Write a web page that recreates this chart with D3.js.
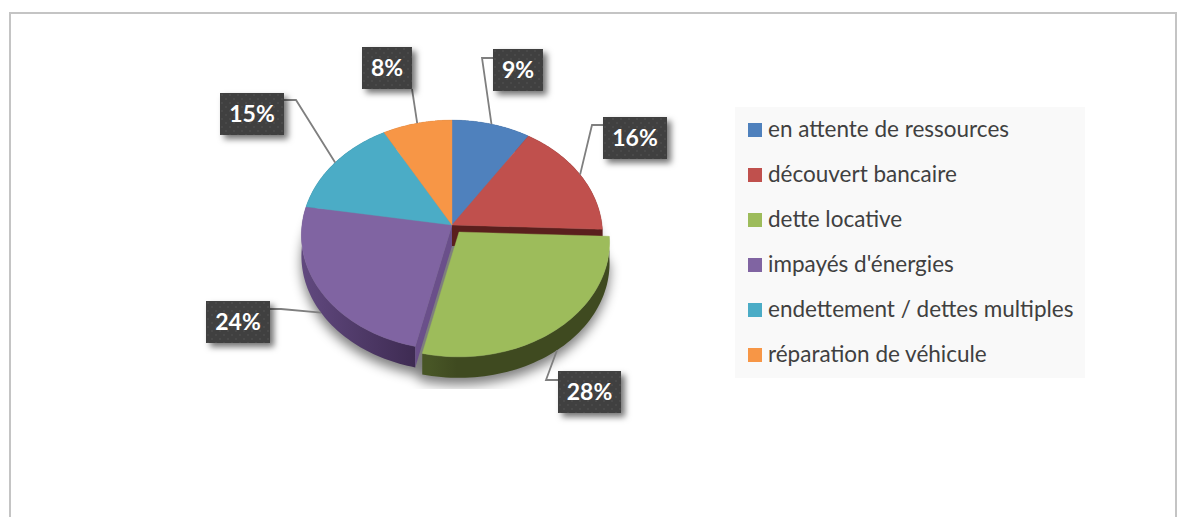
<!DOCTYPE html>
<html>
<head>
<meta charset="utf-8">
<script src="https://cdn.jsdelivr.net/npm/d3@7"></script>
<style>
	html, body { margin: 0; padding: 0; background: #fff; overflow: hidden; }
	svg { display: block; }
	text { font-family: Lato, "Open Sans", sans-serif; }
</style>
</head>
<body>
<div id="chart"></div>
<script>
// Chart values
const categories = ['en attente de ressources', 'découvert bancaire', 'dette locative', "impayés d'énergies", 'endettement / dettes multiples', 'réparation de véhicule'];
const values = [9.2, 16.4, 28, 24, 14.3, 8.1];
const percentLabels = ['9%', '16%', '28%', '24%', '15%', '8%'];

// Styles and layout, kept apart from the values
const faceColors = ['#4f81bd', '#c0504d', '#9dbc5b', '#8064a2', '#4bacc6', '#f79646'];
const boxCorners = [[493, 49], [603, 117], [558, 371], [206, 301], [220, 93], [362, 47]];
const boxWidths = [50, 64, 63, 64, 64, 50];
const boxHeight = 42;
const elbows = [[482, 58], [592, 125], [546, 380], [281, 309], [296, 100], null];
const boxAnchors = [[493, 58], [603, 125], [558, 380], [270, 309], [284, 100], [412, 89]];

const w = 1181, h = 517;
const cx = 452, cy = 225;
const radiusX = 150, radiusY = 114, tilt = 0.087;
const depth = 21;
const explodedIndex = 2;
const explode = [7, 7];

const svg = d3.select('#chart').append('svg').attr('width', w).attr('height', h);
const defs = svg.append('defs');

defs.append('filter').attr('id', 'pieShadow')
	.attr('x', '-20%').attr('y', '-20%').attr('width', '140%').attr('height', '140%')
	.append('feGaussianBlur').attr('stdDeviation', 6);

const boxShadow = defs.append('filter').attr('id', 'boxShadow')
	.attr('x', '-30%').attr('y', '-30%').attr('width', '170%').attr('height', '170%');
boxShadow.append('feDropShadow').attr('dx', 4).attr('dy', 4).attr('stdDeviation', 3)
	.attr('flood-color', '#000').attr('flood-opacity', 0.55);

const dots = defs.append('pattern').attr('id', 'dots').attr('patternUnits', 'userSpaceOnUse')
	.attr('width', 8).attr('height', 8);
dots.append('rect').attr('width', 8).attr('height', 8).attr('fill', '#3f3f3f');
dots.append('circle').attr('cx', 2).attr('cy', 2).attr('r', 1).attr('fill', '#4b4b4b');
dots.append('circle').attr('cx', 6).attr('cy', 6).attr('r', 1).attr('fill', '#4b4b4b');

const purpleSide = defs.append('linearGradient').attr('id', 'purpleSide')
	.attr('gradientUnits', 'userSpaceOnUse').attr('x1', 301).attr('x2', 416).attr('y1', 0).attr('y2', 0);
purpleSide.append('stop').attr('offset', 0).attr('stop-color', '#61497f');
purpleSide.append('stop').attr('offset', 1).attr('stop-color', '#3e2b52');

const greenSide = defs.append('linearGradient').attr('id', 'greenSide')
	.attr('gradientUnits', 'userSpaceOnUse').attr('x1', 422).attr('x2', 450).attr('y1', 0).attr('y2', 0);
greenSide.append('stop').attr('offset', 0).attr('stop-color', '#485626');
greenSide.append('stop').attr('offset', 1).attr('stop-color', '#3f4a20');

// Tilted disc with a little perspective: the near edge comes out bigger
const project = (angle) => {
	const u = Math.sin(angle), v = Math.cos(angle);
	const persp = 1 + tilt * v;
	return [cx + radiusX * u / persp, cy - radiusY * v / persp];
};
const line = d3.line();
const down = (p) => [p[0], p[1] + depth];

const rim = (d) => d3.range(0, 61).map((i) => project(d.startAngle + (d.endAngle - d.startAngle) * i / 60));

const slices = d3.pie().sort(null).value((d) => d)(values);

// page frame, open at the bottom
svg.append('path')
	.attr('d', line([[10, h + 4], [10, 13], [1176, 13], [1176, h + 4]]))
	.attr('fill', 'none').attr('stroke', '#c4c4c4').attr('stroke-width', 2);

// soft shadow under the pie, cut off low and right like the original
defs.append('clipPath').attr('id', 'shadowClip').append('rect')
	.attr('x', 280).attr('y', 100).attr('width', 342).attr('height', 289);
const outline = slices.flatMap((d) => {
	const off = d.index === explodedIndex ? explode : [0, 0];
	return rim(d).map((p) => [p[0] + off[0], p[1] + off[1] + depth + 7]);
});
svg.append('g').attr('clip-path', 'url(#shadowClip)')
	.append('path')
	.attr('d', line(outline) + 'Z')
	.attr('fill', '#000').attr('opacity', 0.5)
	.attr('filter', 'url(#pieShadow)');

const plain = svg.append('g');
const exploded = svg.append('g').attr('transform', `translate(${explode[0]},${explode[1]})`);
const layer = (d) => d.index === explodedIndex ? exploded : plain;

const sideFills = ['#2f4b70', '#5a1f1d', 'url(#greenSide)', 'url(#purpleSide)', '#2b6a7b', '#a9621f'];

// outer walls first, the top faces then hide whatever lies behind them
slices.forEach((d) => {
	const pts = rim(d);
	layer(d).append('path')
		.attr('d', line(pts.concat(pts.map(down).reverse())) + 'Z')
		.attr('fill', sideFills[d.index]);
});

// cut walls seen through the gap left by the pulled out slice
const redEnd = project(slices[1].endAngle);
plain.append('path')
	.attr('d', line([[cx, cy], redEnd, down(redEnd), [cx, cy + depth]]) + 'Z')
	.attr('fill', '#5a1f1d');
const purpleStart = project(slices[3].startAngle);
plain.append('path')
	.attr('d', line([[cx, cy], purpleStart, down(purpleStart), [cx, cy + depth]]) + 'Z')
	.attr('fill', '#6a4f8a');

// top faces
slices.forEach((d) => {
	layer(d).append('path')
		.attr('d', line([[cx, cy]].concat(rim(d))) + 'Z')
		.attr('fill', faceColors[d.index])
		.attr('stroke', faceColors[d.index]).attr('stroke-width', 0.4);
});

// leader lines run from the label box to the middle of the slice's rim
slices.forEach((d) => {
	const mid = (d.startAngle + d.endAngle) / 2;
	let end = project(mid);
	const off = d.index === explodedIndex ? explode : [0, 0];
	end = [end[0] + off[0], end[1] + off[1]];
	if (Math.cos(mid) < 0) end = down(end);
	const pts = elbows[d.index] ? [boxAnchors[d.index], elbows[d.index], end] : [boxAnchors[d.index], end];
	svg.append('path').attr('d', line(pts))
		.attr('fill', 'none').attr('stroke', '#7f7f7f').attr('stroke-width', 1.8);
});

// percent labels
const labels = svg.selectAll('g.label').data(percentLabels).enter().append('g').attr('class', 'label')
	.attr('transform', (d, i) => `translate(${boxCorners[i][0]},${boxCorners[i][1]})`);
labels.append('rect')
	.attr('width', (d, i) => boxWidths[i]).attr('height', boxHeight)
	.attr('fill', 'url(#dots)').attr('filter', 'url(#boxShadow)');
labels.append('text')
	.attr('x', (d, i) => boxWidths[i] / 2).attr('y', boxHeight / 2 + 8)
	.attr('text-anchor', 'middle')
	.attr('font-size', 23).attr('font-weight', 700).attr('fill', '#fff')
	.text((d) => d);

// legend
const legendY = d3.scalePoint().domain(categories).range([130, 355]);
svg.append('rect').attr('x', 735).attr('y', 107).attr('width', 350).attr('height', 271).attr('fill', '#f9f9f9');
const legend = svg.selectAll('g.legend').data(categories).enter().append('g').attr('class', 'legend')
	.attr('transform', (d) => `translate(748,${legendY(d)})`);
legend.append('rect').attr('y', -7).attr('width', 14).attr('height', 14)
	.attr('fill', (d, i) => faceColors[i]);
legend.append('text').attr('x', 20).attr('y', 7)
	.attr('font-size', 22.5).attr('fill', '#404040')
	.text((d) => d);
</script>
</body>
</html>
